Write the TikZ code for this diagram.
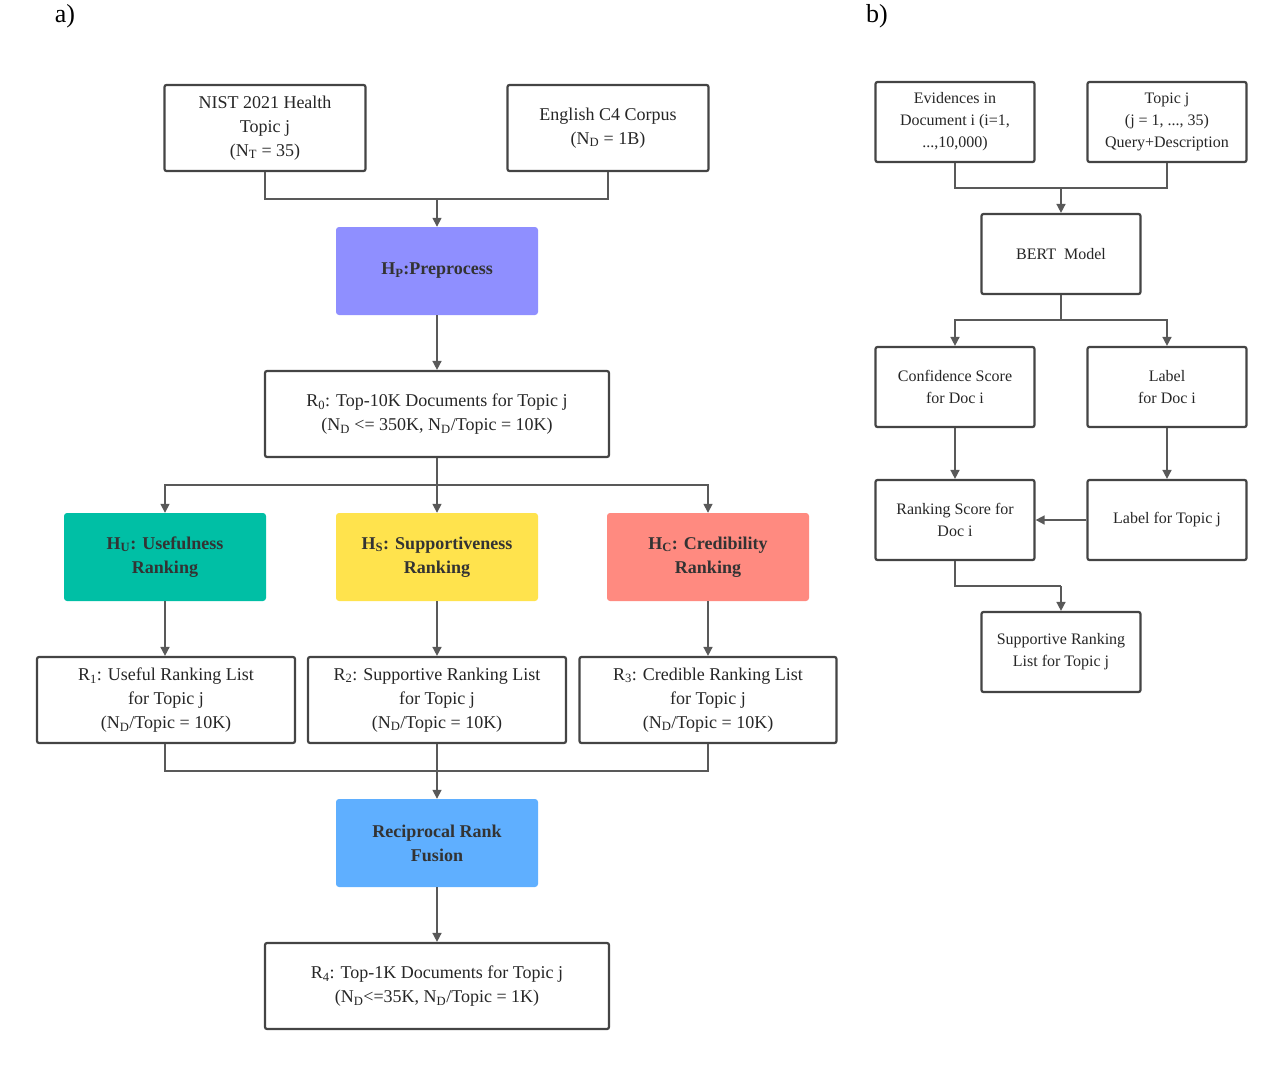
\documentclass[tikz,border=0pt]{standalone}
\usepackage{fontspec}
\setmainfont{Liberation Serif}
\usetikzlibrary{arrows.meta}
\definecolor{ln}{HTML}{595959}
\definecolor{bd}{HTML}{444444}
\definecolor{cpur}{HTML}{8F8FFF}
\definecolor{cteal}{HTML}{00BFA5}
\definecolor{cyel}{HTML}{FFE34D}
\definecolor{csal}{HTML}{FF8A80}
\definecolor{cblue}{HTML}{5FAFFF}
\tikzset{
 wbox/.style={draw=bd,line width=2.2pt,rounded corners=2pt,fill=white,align=center,inner sep=0pt,font=\fontsize{18}{24}\selectfont,text=black!85},
 bbox/.style={wbox,font=\fontsize{16}{22}\selectfont},
 cbox/.style={rounded corners=3pt,align=center,inner sep=0pt,minimum width=202pt,minimum height=88pt,font=\fontsize{18}{24}\selectfont\bfseries,text=black!80},
 con/.style={draw=ln,line width=1.6pt},
 arr/.style={con,-{Triangle[width=9pt,length=9pt]}}
}
\begin{document}
\begin{tikzpicture}[x=1pt,y=-1pt]
\useasboundingbox (0,0) rectangle (1280,1066);
\node[font=\fontsize{26}{30}\selectfont] (la) at (65,16) {a)};
\node[font=\fontsize{26}{30}\selectfont] (lb) at (877,16) {b)};
% a)
\node[wbox,minimum width=201pt,minimum height=86pt] (nist) at (265,128) {NIST 2021 Health\\Topic j\\(N\textsubscript{T} = 35)};
\node[wbox,minimum width=201pt,minimum height=86pt] (c4) at (608,128) {English C4 Corpus\\(N\textsubscript{D} = 1B)};
\node[cbox,fill=cpur] (pre) at (437,271) {H\textsubscript{P}:Preprocess};
\node[wbox,minimum width=344pt,minimum height=86pt] (r0) at (437,414) {R\textsubscript{0}: Top-10K Documents for Topic j\\(N\textsubscript{D} <= 350K, N\textsubscript{D}/Topic = 10K)};
\node[cbox,fill=cteal] (hu) at (165,557) {H\textsubscript{U}: Usefulness\\Ranking};
\node[cbox,fill=cyel] (hs) at (437,557) {H\textsubscript{S}: Supportiveness\\Ranking};
\node[cbox,fill=csal] (hc) at (708,557) {H\textsubscript{C}: Credibility\\Ranking};
\node[wbox,minimum width=258pt,minimum height=86pt] (r1) at (166,700) {R\textsubscript{1}: Useful Ranking List\\for Topic j\\(N\textsubscript{D}/Topic = 10K)};
\node[wbox,minimum width=258pt,minimum height=86pt] (r2) at (437,700) {R\textsubscript{2}: Supportive Ranking List\\for Topic j\\(N\textsubscript{D}/Topic = 10K)};
\node[wbox,minimum width=257pt,minimum height=86pt] (r3) at (708,700) {R\textsubscript{3}: Credible Ranking List\\for Topic j\\(N\textsubscript{D}/Topic = 10K)};
\node[cbox,fill=cblue] (rrf) at (437,843) {Reciprocal Rank\\Fusion};
\node[wbox,minimum width=344pt,minimum height=86pt] (r4) at (437,986) {R\textsubscript{4}: Top-1K Documents for Topic j\\(N\textsubscript{D}<=35K, N\textsubscript{D}/Topic = 1K)};
\coordinate (j1) at (437,199);
\coordinate (j2) at (437,485);
\coordinate (j3) at (437,771);
\draw[con] (nist.south) |- (j1);
\draw[con] (c4.south) |- (j1);
\draw[arr] (j1) -- (pre.north);
\draw[arr] (pre.south) -- (r0.north);
\draw[con] (r0.south) -- (j2);
\draw[arr] (j2) -| (hu.north);
\draw[arr] (j2) -| (hc.north);
\draw[arr] (j2) -- (hs.north);
\draw[arr] (hu.south) -- (hu.south|-r1.north);
\draw[arr] (hs.south) -- (r2.north);
\draw[arr] (hc.south) -- (r3.north);
\draw[con] (hu.south|-r1.south) |- (j3);
\draw[con] (r3.south) |- (j3);
\draw[con] (r2.south) -- (j3);
\draw[arr] (j3) -- (rrf.north);
\draw[arr] (rrf.south) -- (r4.north);
% b)
\tikzset{bsz/.style={bbox,minimum width=159pt,minimum height=80pt}}
\node[bsz] (ev) at (955,122) {Evidences in\\Document i (i=1,\\...,10,000)};
\node[bsz] (tj) at (1167,122) {Topic j\\(j = 1, ..., 35)\\Query+Description};
\node[bsz] (bert) at (1061,254) {BERT\ \ Model};
\node[bsz] (cs) at (955,387) {Confidence Score\\for Doc i};
\node[bsz] (lab) at (1167,387) {Label\\for Doc i};
\node[bsz] (rs) at (955,520) {Ranking Score for\\Doc i};
\node[bsz] (lt) at (1167,520) {Label for Topic j};
\node[bsz] (sr) at (1061,652) {Supportive Ranking\\List for Topic j};
\coordinate (k1) at (1061,188);
\coordinate (k2) at (1061,320);
\coordinate (k3) at (1061,586);
\draw[con] (ev.south) |- (k1);
\draw[con] (tj.south) |- (k1);
\draw[arr] (k1) -- (bert.north);
\draw[con] (bert.south) -- (k2);
\draw[arr] (k2) -| (cs.north);
\draw[arr] (k2) -| (lab.north);
\draw[arr] (cs.south) -- (rs.north);
\draw[arr] (lab.south) -- (lt.north);
\draw[arr] (lt.west) -- (rs.east);
\draw[con] (rs.south) |- (k3);
\draw[arr] (k3) -- (sr.north);
\end{tikzpicture}
\end{document}
